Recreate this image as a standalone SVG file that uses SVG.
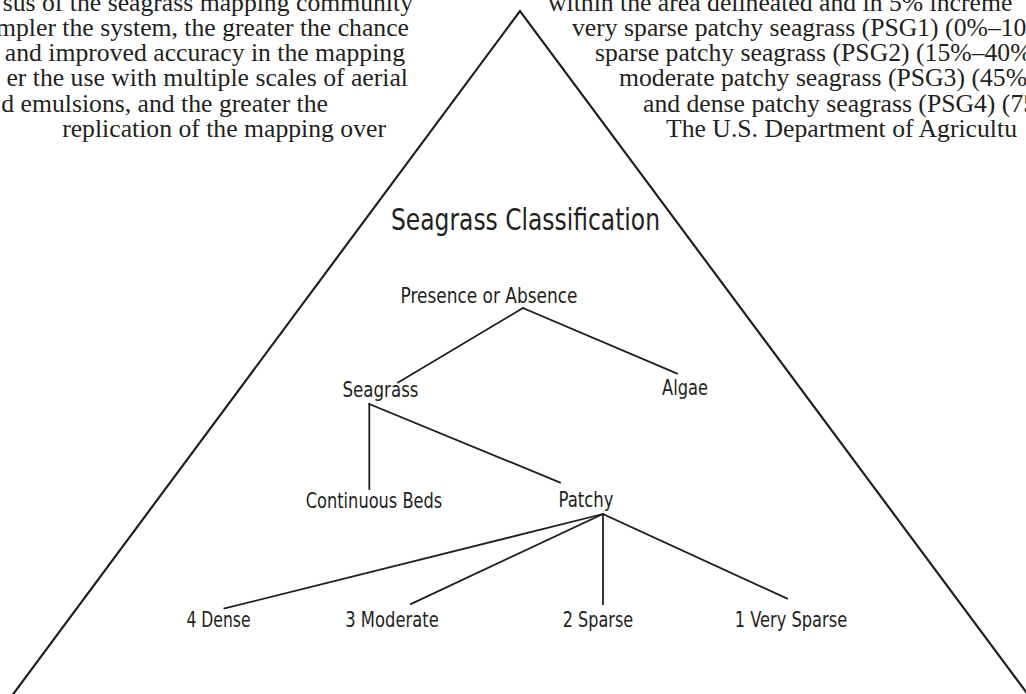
<svg xmlns="http://www.w3.org/2000/svg" width="1026" height="694" viewBox="0 0 1026 694">
<style>
.body{font-family:"Liberation Serif","Times New Roman",serif;font-size:25.7px;fill:#231f20}
.lbl{font-family:"Liberation Sans Narrow","DejaVu Sans Condensed","Liberation Sans",sans-serif;font-size:22px;fill:#231f20;text-anchor:middle}
.title{font-size:30px}
.edge{stroke:#231f20;stroke-width:1.8;fill:none;stroke-linecap:square}
.tri{stroke:#231f20;stroke-width:2.2;fill:none;stroke-linejoin:miter}
</style>
<rect width="1026" height="694" fill="#ffffff"/>
<g id="page-text-left" class="body" text-anchor="end">
<text x="413" y="10.5">sus of the seagrass mapping community</text>
<text x="409" y="35.8">mpler the system, the greater the chance</text>
<text x="405" y="61.1">and improved accuracy in the mapping</text>
<text x="408" y="86.4">er the use with multiple scales of aerial</text>
<text x="328" y="111.7">d emulsions, and the greater the</text>
<text x="386" y="137">replication of the mapping over</text>
</g>
<g id="page-text-right" class="body">
<text x="548" y="10.5">within the area delineated and in 5% increme</text>
<text x="572" y="35.8">very sparse patchy seagrass (PSG1) (0%–10%</text>
<text x="595" y="61.1">sparse patchy seagrass (PSG2) (15%–40%</text>
<text x="619" y="86.4">moderate patchy seagrass (PSG3) (45%–</text>
<text x="643" y="111.7">and dense patchy seagrass (PSG4) (75</text>
<text x="666" y="137">The U.S. Department of Agricultu</text>
</g>
<polyline id="triangle" class="tri" points="8.8,700 520,11 1032,700"/>
<g id="connectors">
<line class="edge" x1="523" y1="308" x2="398" y2="382.5"/>
<line class="edge" x1="523" y1="308" x2="677" y2="373.5"/>
<line class="edge" x1="369.3" y1="404" x2="369.3" y2="489"/>
<line class="edge" x1="369.3" y1="404" x2="560" y2="482.5"/>
<line class="edge" x1="603" y1="514" x2="224.5" y2="608.5"/>
<line class="edge" x1="603" y1="514" x2="411" y2="604"/>
<line class="edge" x1="603" y1="514" x2="603" y2="604"/>
<line class="edge" x1="603" y1="514" x2="787" y2="598.5"/>
</g>
<g id="node-title"><text class="lbl title" x="525.5" y="230" textLength="269" lengthAdjust="spacingAndGlyphs">Seagrass Classification</text></g>
<g id="node-presence"><text class="lbl" x="489" y="303" textLength="177" lengthAdjust="spacingAndGlyphs">Presence or Absence</text></g>
<g id="node-seagrass"><text class="lbl" x="380.5" y="397" textLength="76" lengthAdjust="spacingAndGlyphs">Seagrass</text></g>
<g id="node-algae"><text class="lbl" x="685" y="395" textLength="46" lengthAdjust="spacingAndGlyphs">Algae</text></g>
<g id="node-continuous"><text class="lbl" x="374" y="508" textLength="136.5" lengthAdjust="spacingAndGlyphs">Continuous Beds</text></g>
<g id="node-patchy"><text class="lbl" x="586" y="507" textLength="55" lengthAdjust="spacingAndGlyphs">Patchy</text></g>
<g id="node-dense"><text class="lbl" x="218.5" y="627" textLength="64" lengthAdjust="spacingAndGlyphs">4 Dense</text></g>
<g id="node-moderate"><text class="lbl" x="392" y="627" textLength="93.5" lengthAdjust="spacingAndGlyphs">3 Moderate</text></g>
<g id="node-sparse"><text class="lbl" x="598" y="627" textLength="70.5" lengthAdjust="spacingAndGlyphs">2 Sparse</text></g>
<g id="node-verysparse"><text class="lbl" x="791" y="627" textLength="112.5" lengthAdjust="spacingAndGlyphs">1 Very Sparse</text></g>
</svg>
